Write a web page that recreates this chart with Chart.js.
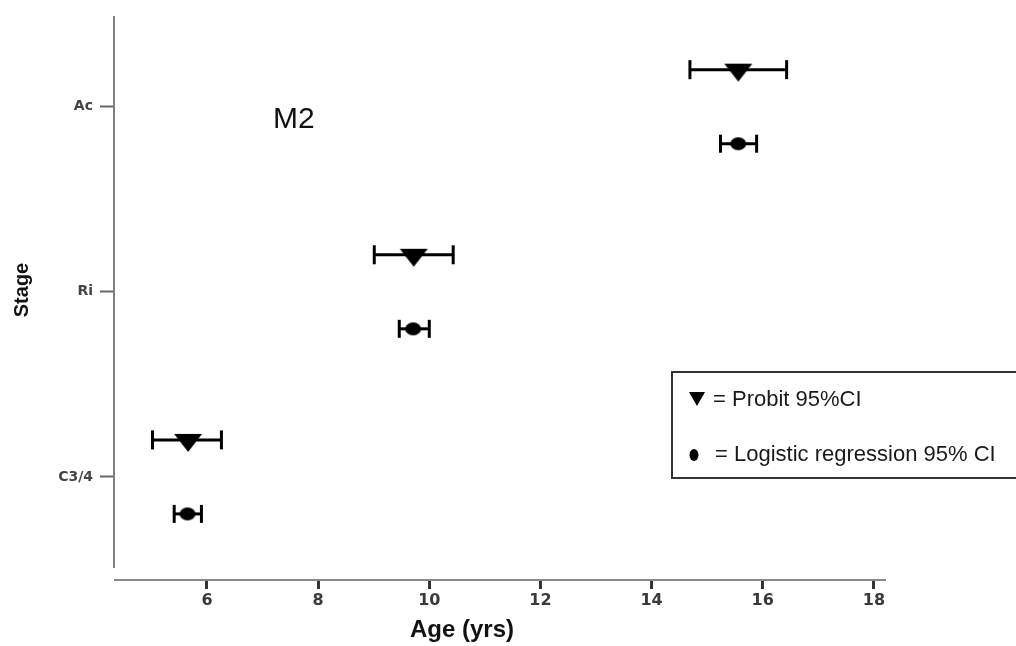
<!DOCTYPE html>
<html>
<head>
<meta charset="utf-8">
<title>M2 stage vs age</title>
<script src="https://cdn.jsdelivr.net/npm/chart.js@4.4.1/dist/chart.umd.min.js"></script>
<style>
  html, body { margin: 0; padding: 0; background: #fff; }
  .chart-container { position: relative; width: 1016px; height: 646px; }
</style>
</head>
<body>
<div class="chart-container">
  <canvas id="chart"></canvas>
</div>
<script>
// stages bottom to top, y value = index + 1
const stages = ["C3/4", "Ri", "Ac"];
const ageTicks = [6, 8, 10, 12, 14, 16, 18];

// probit estimates with 95% CI (years)
const probitMean = [5.66, 9.72, 15.56];
const probitLow = [5.02, 9.01, 14.69];
const probitHigh = [6.26, 10.43, 16.43];

// logistic regression estimates with 95% CI (years)
const logitMean = [5.65, 9.71, 15.56];
const logitLow = [5.41, 9.46, 15.24];
const logitHigh = [5.9, 10.0, 15.89];

// probit row sits above the stage line, logistic below
const rowShift = 0.2;

// inverted triangle marker, centroid in the middle of the canvas
function makeTriangle(w, h) {
  const c = document.createElement("canvas");
  c.width = w + 2;
  c.height = Math.round((h * 2 / 3) * 2) + 2;
  const ctx = c.getContext("2d");
  const cy = c.height / 2;
  ctx.fillStyle = "#000";
  ctx.beginPath();
  ctx.moveTo(1, cy - h / 3);
  ctx.lineTo(w + 1, cy - h / 3);
  ctx.lineTo(w / 2 + 1, cy + h * 2 / 3);
  ctx.closePath();
  ctx.fill();
  return c;
}

function makeDot(w, h) {
  const c = document.createElement("canvas");
  c.width = w + 2;
  c.height = h + 2;
  const ctx = c.getContext("2d");
  ctx.fillStyle = "#000";
  ctx.beginPath();
  ctx.ellipse(c.width / 2, c.height / 2, w / 2, h / 2, 0, 0, Math.PI * 2);
  ctx.fill();
  return c;
}

const triangleMark = makeTriangle(28, 18);
const dotMark = makeDot(16, 13);

function ciDataset(lo, hi, y, capRadius) {
  return {
    type: "scatter",
    showLine: true,
    data: [{ x: lo, y: y }, { x: hi, y: y }],
    borderColor: "#000",
    borderWidth: 3,
    pointStyle: "line",
    pointRotation: 90,
    pointRadius: capRadius,
    pointBorderWidth: 3,
    pointBorderColor: "#000",
    order: 1,
  };
}

const datasets = [
  {
    label: "Probit 95%CI",
    data: stages.map((s, i) => ({ x: probitMean[i], y: i + 1 + rowShift })),
    pointStyle: triangleMark,
    pointRadius: 10,
    order: 0,
  },
  {
    label: "Logistic regression 95% CI",
    data: stages.map((s, i) => ({ x: logitMean[i], y: i + 1 - rowShift })),
    pointStyle: dotMark,
    pointRadius: 8,
    order: 0,
  },
];
stages.forEach((s, i) => {
  datasets.push(ciDataset(probitLow[i], probitHigh[i], i + 1 + rowShift, 9.5));
  datasets.push(ciDataset(logitLow[i], logitHigh[i], i + 1 - rowShift, 9));
});

// axis titles, panel label, legend box and the short y axis line
const decorations = {
  id: "decorations",
  afterDraw(chart) {
    const { ctx, scales } = chart;
    const y = scales.y;
    ctx.save();

    ctx.strokeStyle = "#7f7f7f";
    ctx.lineWidth = 2;
    ctx.beginPath();
    ctx.moveTo(y.right - 1, y.top);
    ctx.lineTo(y.right - 1, y.bottom - 12);
    ctx.stroke();

    ctx.fillStyle = "#111";
    ctx.font = "30px 'Liberation Sans', Arial, sans-serif";
    ctx.textAlign = "left";
    ctx.textBaseline = "alphabetic";
    ctx.fillText("M2", 273, 128);

    ctx.font = "bold 24px 'Liberation Sans', Arial, sans-serif";
    ctx.textAlign = "center";
    ctx.fillText("Age (yrs)", 462, 637);

    ctx.save();
    ctx.translate(28, 290);
    ctx.rotate(-Math.PI / 2);
    ctx.font = "bold 20px 'Liberation Sans', Arial, sans-serif";
    ctx.fillText("Stage", 0, 0);
    ctx.restore();

    // legend
    ctx.strokeStyle = "#333";
    ctx.lineWidth = 2;
    ctx.strokeRect(672, 372, 360, 106);

    ctx.fillStyle = "#000";
    ctx.beginPath();
    ctx.moveTo(689, 392);
    ctx.lineTo(705, 392);
    ctx.lineTo(697, 406);
    ctx.closePath();
    ctx.fill();

    ctx.beginPath();
    ctx.ellipse(694, 455, 4.5, 6, 0, 0, Math.PI * 2);
    ctx.fill();

    ctx.fillStyle = "#1a1a1a";
    ctx.font = "22px 'Liberation Sans', Arial, sans-serif";
    ctx.textAlign = "left";
    ctx.fillText("= Probit 95%CI", 713, 406);
    ctx.fillText("= Logistic regression 95% CI", 715, 461);

    ctx.restore();
  },
};

new Chart(document.getElementById("chart"), {
  type: "scatter",
  data: { datasets },
  options: {
    responsive: true,
    maintainAspectRatio: false,
    animation: false,
    layout: { padding: { top: 16, right: 131, left: 0, bottom: 0 } },
    plugins: {
      legend: { display: false },
      tooltip: { enabled: false },
    },
    scales: {
      x: {
        type: "linear",
        min: 4.345,
        max: 18.2,
        afterBuildTicks: (scale) => {
          scale.ticks = ageTicks.map((v) => ({ value: v }));
        },
        afterFit: (scale) => {
          scale.height = 66;
        },
        border: { display: true, color: "#8a8a8a", width: 2 },
        grid: {
          drawOnChartArea: false,
          drawTicks: true,
          tickLength: 9,
          tickColor: "#333",
          tickWidth: 3,
        },
        ticks: {
          padding: 2,
          maxRotation: 0,
          color: "#3a3a3a",
          font: { family: "'DejaVu Sans', sans-serif", size: 16, weight: "bold" },
        },
      },
      y: {
        type: "linear",
        min: 0.443,
        max: 3.49,
        afterBuildTicks: (scale) => {
          scale.ticks = stages.map((s, i) => ({ value: i + 1 }));
        },
        afterFit: (scale) => {
          scale.width = 115;
        },
        border: { display: false },
        grid: {
          drawOnChartArea: false,
          drawTicks: true,
          tickLength: 15,
          tickColor: "#666",
          tickWidth: 2,
        },
        ticks: {
          padding: 7,
          color: "#444",
          font: { family: "'DejaVu Sans', sans-serif", size: 14, weight: "bold" },
          callback: (v) => stages[Math.round(v) - 1],
        },
      },
    },
  },
  plugins: [decorations],
});
</script>
</body>
</html>
